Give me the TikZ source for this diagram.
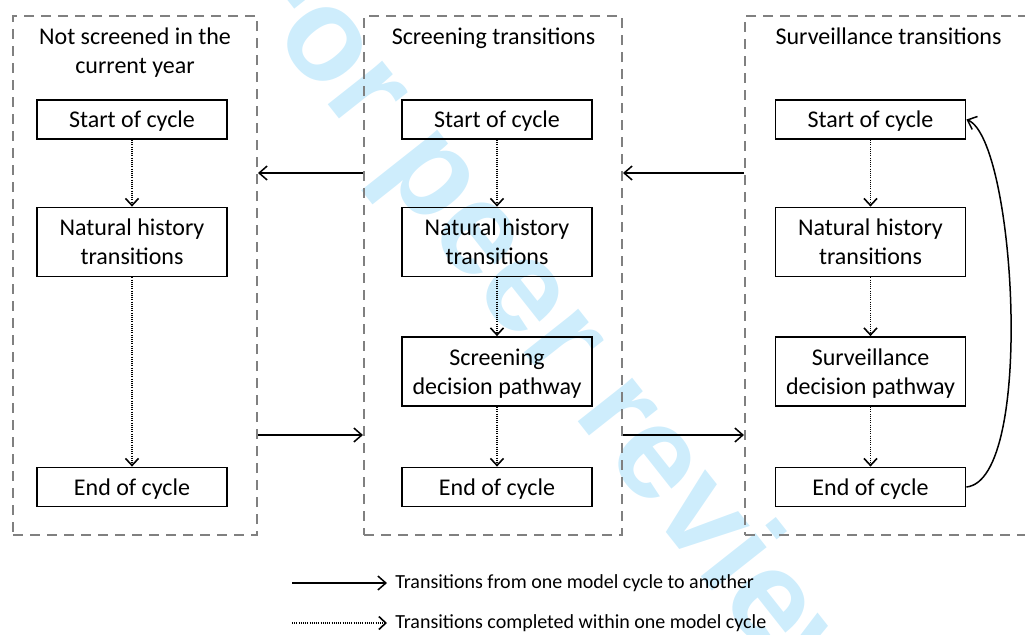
\documentclass[tikz,border=0pt]{standalone}
\usepackage{fontspec}
\setmainfont{Carlito}
\newfontfamily\wmfont{Liberation Sans}
\usetikzlibrary{arrows.meta}
\definecolor{wmblue}{RGB}{206,237,252}
\definecolor{panelgray}{RGB}{128,128,128}
\begin{document}
\begin{tikzpicture}[x=0.5pt, y=-0.5pt, every node/.style={font=\fontsize{12}{14.5}\selectfont},
  panel/.style={draw=panelgray, line width=1pt, dash pattern=on 5pt off 3.5pt, minimum height=259.5pt},
  box/.style={draw, line width=0.9pt, minimum width=95pt, minimum height=19.5pt, align=center, inner sep=0pt, text depth=0pt},
  tall/.style={box, minimum height=34.5pt},
  conn/.style={-{Straight Barb[length=4pt,width=7pt]}, line width=0.75pt},
  dots/.style={-{Straight Barb[length=3.5pt,width=6.5pt]}, line width=0.8pt, dash pattern=on 0.5pt off 0.6pt}]
  \useasboundingbox (0,0) rectangle (1025,634);
  \clip (0,0) rectangle (1025,634);
  \node[rotate=-51.7, text=wmblue, font=\wmfont\bfseries\fontsize{66}{66}\selectfont] (wm) at (552,333) {For peer review};
  \node[panel, minimum width=122pt] (pl) at (135,275.5) {};
  \node[panel, minimum width=129pt] (pm) at (493,275.5) {};
  \node[panel, minimum width=145pt] (pr) at (890,275.5) {};
  \node[align=center, anchor=north, inner sep=0pt] (tl) at (135,27) {Not screened in the\\current year};
  \node[anchor=base, inner sep=0pt] (tm) at (493.5,44) {Screening transitions};
  \node[anchor=base, inner sep=0pt] (tr) at (888.5,44) {Surveillance transitions};
  \node[box] (ls) at (132,119.5) {Start of cycle};
  \node[tall] (ln) at (132,242) {Natural history\\transitions};
  \node[box] (le) at (132,487) {End of cycle};
  \node[box] (ms) at (497,119.5) {Start of cycle};
  \node[tall] (mn) at (497,242) {Natural history\\transitions};
  \node[tall] (md) at (497,371.5) {Screening\\decision pathway};
  \node[box] (me) at (497,487) {End of cycle};
  \node[box] (rs) at (870.5,119.5) {Start of cycle};
  \node[tall] (rn) at (870.5,242) {Natural history\\transitions};
  \node[tall] (rd) at (870.5,371.5) {Surveillance\\decision pathway};
  \node[box] (re) at (870.5,487) {End of cycle};
  \draw[dots] (ls) -- (ln);
  \draw[dots] (ln) -- (le);
  \draw[dots] (ms) -- (mn);
  \draw[dots] (mn) -- (md);
  \draw[dots] (md) -- (me);
  \draw[dots] (rs) -- (rn);
  \draw[dots] (rn) -- (rd);
  \draw[dots] (rd) -- (re);
  \coordinate (up) at (0,173);
  \coordinate (lo) at (0,435);
  \draw[conn] (pm.west |- up) -- (pl.east |- up);
  \draw[conn] (pr.west |- up) -- (pm.east |- up);
  \draw[conn] (pl.east |- lo) -- (pm.west |- lo);
  \draw[conn] (pm.east |- lo) -- (pr.west |- lo);
  \draw[conn] (re.east) .. controls +(69,-7) and +(49,20) .. (rs.east);
  \coordinate (k1) at (292,583);
  \coordinate (k2) at (292,623);
  \node[anchor=west, inner sep=4pt, font=\fontsize{10}{12}\selectfont] (t1) at (387,583) {Transitions from one model cycle to another};
  \node[anchor=west, inner sep=4pt, font=\fontsize{10}{12}\selectfont] (t2) at (387,623) {Transitions completed within one model cycle};
  \draw[conn] (k1) -- (t1.west);
  \draw[dots] (k2) -- (t2.west);
\end{tikzpicture}
\end{document}
